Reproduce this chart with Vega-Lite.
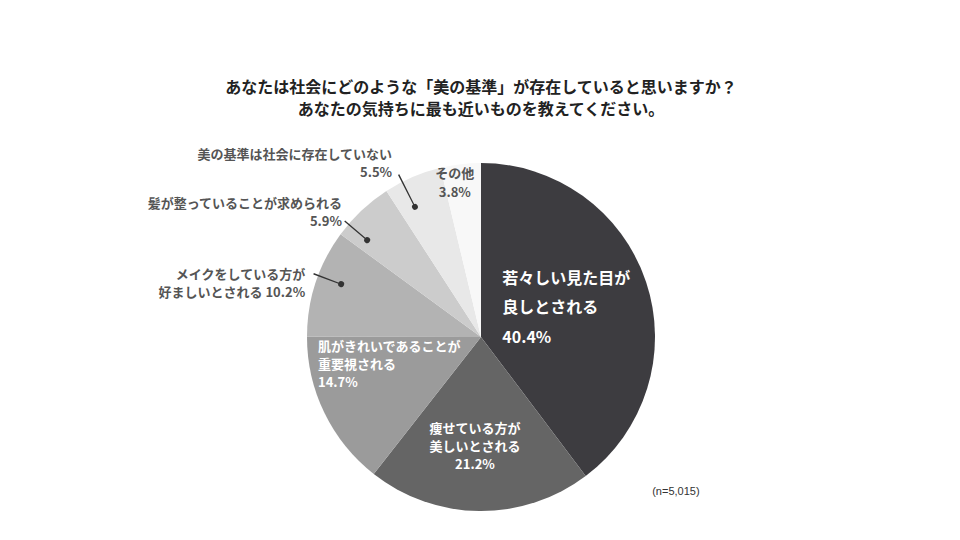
{
  "$schema": "https://vega.github.io/schema/vega-lite/v6.json",
  "description": "美の基準に関する意識調査 円グラフ",
  "width": 348,
  "height": 348,
  "autosize": {"type": "none"},
  "padding": {"left": 307, "top": 163, "right": 305, "bottom": 29},
  "background": "#ffffff",
  "title": {
    "text": ["あなたは社会にどのような「美の基準」が存在していると思いますか？", "あなたの気持ちに最も近いものを教えてください。"],
    "font": "Noto Sans CJK JP",
    "fontSize": 16,
    "fontWeight": "bold",
    "color": "#222222",
    "lineHeight": 22,
    "anchor": "middle",
    "offset": 18
  },
  "layer": [
    {
      "data": {"values": [
        {"n": 1, "category": "若々しい見た目が良しとされる", "value": 40.4, "lines": ["若々しい見た目が", "良しとされる", "40.4%"]},
        {"n": 2, "category": "痩せている方が美しいとされる", "value": 21.2, "lines": ["痩せている方が", "美しいとされる", "21.2%"]},
        {"n": 3, "category": "肌がきれいであることが重要視される", "value": 14.7, "lines": ["肌がきれいであることが", "重要視される", "14.7%"]},
        {"n": 4, "category": "メイクをしている方が好ましいとされる", "value": 10.2, "lines": ["メイクをしている方が", "好ましいとされる 10.2%"]},
        {"n": 5, "category": "髪が整っていることが求められる", "value": 5.9, "lines": ["髪が整っていることが求められる", "5.9%"]},
        {"n": 6, "category": "美の基準は社会に存在していない", "value": 5.5, "lines": ["美の基準は社会に存在していない", "5.5%"]},
        {"n": 7, "category": "その他", "value": 3.8, "lines": ["その他", "3.8%"]}
      ]},
      "transform": [
        {"stack": "value", "groupby": [], "sort": [{"field": "n", "order": "ascending"}], "as": ["v0", "v1"]}
      ],
      "encoding": {
        "theta": {"field": "value", "type": "quantitative", "stack": true},
        "order": {"field": "n", "type": "quantitative"}
      },
      "layer": [
        {
          "mark": {"type": "arc", "radius": 174},
          "encoding": {
            "color": {
              "field": "category",
              "type": "nominal",
              "legend": null,
              "scale": {
                "domain": ["若々しい見た目が良しとされる", "痩せている方が美しいとされる", "肌がきれいであることが重要視される", "メイクをしている方が好ましいとされる", "髪が整っていることが求められる", "美の基準は社会に存在していない", "その他"],
                "range": ["#3d3c40", "#656565", "#9b9b9b", "#b3b3b3", "#cccccc", "#e8e8e8", "#f8f8f8"]
              }
            }
          }
        },
        {
          "mark": {"type": "arc", "radius": 179, "radius2": 150, "thetaOffset": 0.3557, "theta2Offset": -0.2663, "color": "#333333"},
          "encoding": {
            "theta": {"field": "v0", "type": "quantitative", "stack": null},
            "theta2": {"field": "v1"},
            "opacity": {"condition": {"test": "datum.n === 4", "value": 1}, "value": 0}
          }
        },
        {
          "mark": {"type": "arc", "radius": 179, "radius2": 150, "thetaOffset": 0.0695, "theta2Offset": -0.2871, "color": "#333333"},
          "encoding": {
            "theta": {"field": "v0", "type": "quantitative", "stack": null},
            "theta2": {"field": "v1"},
            "opacity": {"condition": {"test": "datum.n === 5", "value": 1}, "value": 0}
          }
        },
        {
          "mark": {"type": "arc", "radius": 182, "radius2": 147, "thetaOffset": 0.1011, "theta2Offset": -0.2307, "color": "#333333"},
          "encoding": {
            "theta": {"field": "v0", "type": "quantitative", "stack": null},
            "theta2": {"field": "v1"},
            "opacity": {"condition": {"test": "datum.n === 6", "value": 1}, "value": 0}
          }
        },
        {
          "mark": {"type": "arc", "radius": 152.5, "radius2": 146.5, "cornerRadius": 3, "thetaOffset": 0.3396, "theta2Offset": -0.2503, "color": "#333333"},
          "encoding": {
            "theta": {"field": "v0", "type": "quantitative", "stack": null},
            "theta2": {"field": "v1"},
            "opacity": {"condition": {"test": "datum.n === 4", "value": 1}, "value": 0}
          }
        },
        {
          "mark": {"type": "arc", "radius": 152.5, "radius2": 146.5, "cornerRadius": 3, "thetaOffset": 0.0534, "theta2Offset": -0.271, "color": "#333333"},
          "encoding": {
            "theta": {"field": "v0", "type": "quantitative", "stack": null},
            "theta2": {"field": "v1"},
            "opacity": {"condition": {"test": "datum.n === 5", "value": 1}, "value": 0}
          }
        },
        {
          "mark": {"type": "arc", "radius": 149, "radius2": 143, "cornerRadius": 3, "thetaOffset": 0.085, "theta2Offset": -0.2147, "color": "#333333"},
          "encoding": {
            "theta": {"field": "v0", "type": "quantitative", "stack": null},
            "theta2": {"field": "v1"},
            "opacity": {"condition": {"test": "datum.n === 6", "value": 1}, "value": 0}
          }
        },
        {
          "mark": {"type": "text", "radius": 90, "align": "left", "baseline": "middle", "dx": -64, "dy": -29.5, "fontSize": 16, "fontWeight": "bold", "lineHeight": 29.5, "color": "#ffffff"},
          "encoding": {"text": {"condition": {"test": "datum.n === 1", "field": "lines", "type": "nominal"}, "value": ""}}
        },
        {
          "mark": {"type": "text", "radius": 110, "align": "center", "baseline": "middle", "dx": -5, "dy": -18, "fontSize": 13, "fontWeight": "bold", "lineHeight": 18, "color": "#ffffff"},
          "encoding": {"text": {"condition": {"test": "datum.n === 2", "field": "lines", "type": "nominal"}, "value": ""}}
        },
        {
          "mark": {"type": "text", "radius": 95, "align": "left", "baseline": "middle", "dx": -77.6, "dy": -31.5, "fontSize": 13, "fontWeight": "bold", "lineHeight": 18, "color": "#ffffff"},
          "encoding": {"text": {"condition": {"test": "datum.n === 3", "field": "lines", "type": "nominal"}, "value": ""}}
        },
        {
          "mark": {"type": "text", "radius": 185, "align": "right", "baseline": "middle", "dx": 0, "dy": -4.4, "fontSize": 13, "fontWeight": "bold", "lineHeight": 18, "color": "#555555"},
          "encoding": {"text": {"condition": {"test": "datum.n === 4", "field": "lines", "type": "nominal"}, "value": ""}}
        },
        {
          "mark": {"type": "text", "radius": 186, "align": "right", "baseline": "middle", "dx": -11.3, "dy": 2.2, "fontSize": 13, "fontWeight": "bold", "lineHeight": 18, "color": "#555555"},
          "encoding": {"text": {"condition": {"test": "datum.n === 5", "field": "lines", "type": "nominal"}, "value": ""}}
        },
        {
          "mark": {"type": "text", "radius": 180, "align": "right", "baseline": "middle", "dx": -18, "dy": -16.6, "fontSize": 13, "fontWeight": "bold", "lineHeight": 18, "color": "#555555"},
          "encoding": {"text": {"condition": {"test": "datum.n === 6", "field": "lines", "type": "nominal"}, "value": ""}}
        },
        {
          "mark": {"type": "text", "radius": 155, "align": "center", "baseline": "middle", "dx": -8, "dy": -9.5, "fontSize": 13, "fontWeight": "bold", "lineHeight": 19, "color": "#555555"},
          "encoding": {"text": {"condition": {"test": "datum.n === 7", "field": "lines", "type": "nominal"}, "value": ""}}
        }
      ]
    },
    {
      "data": {"values": [{"note": "(n=5,015)"}]},
      "mark": {"type": "text", "theta": 2.2427, "radius": 249, "align": "center", "baseline": "middle", "font": "Liberation Sans", "fontSize": 11, "color": "#333333"},
      "encoding": {"text": {"field": "note", "type": "nominal"}}
    }
  ],
  "config": {
    "view": {"stroke": null},
    "text": {"font": "Noto Sans CJK JP"}
  }
}
